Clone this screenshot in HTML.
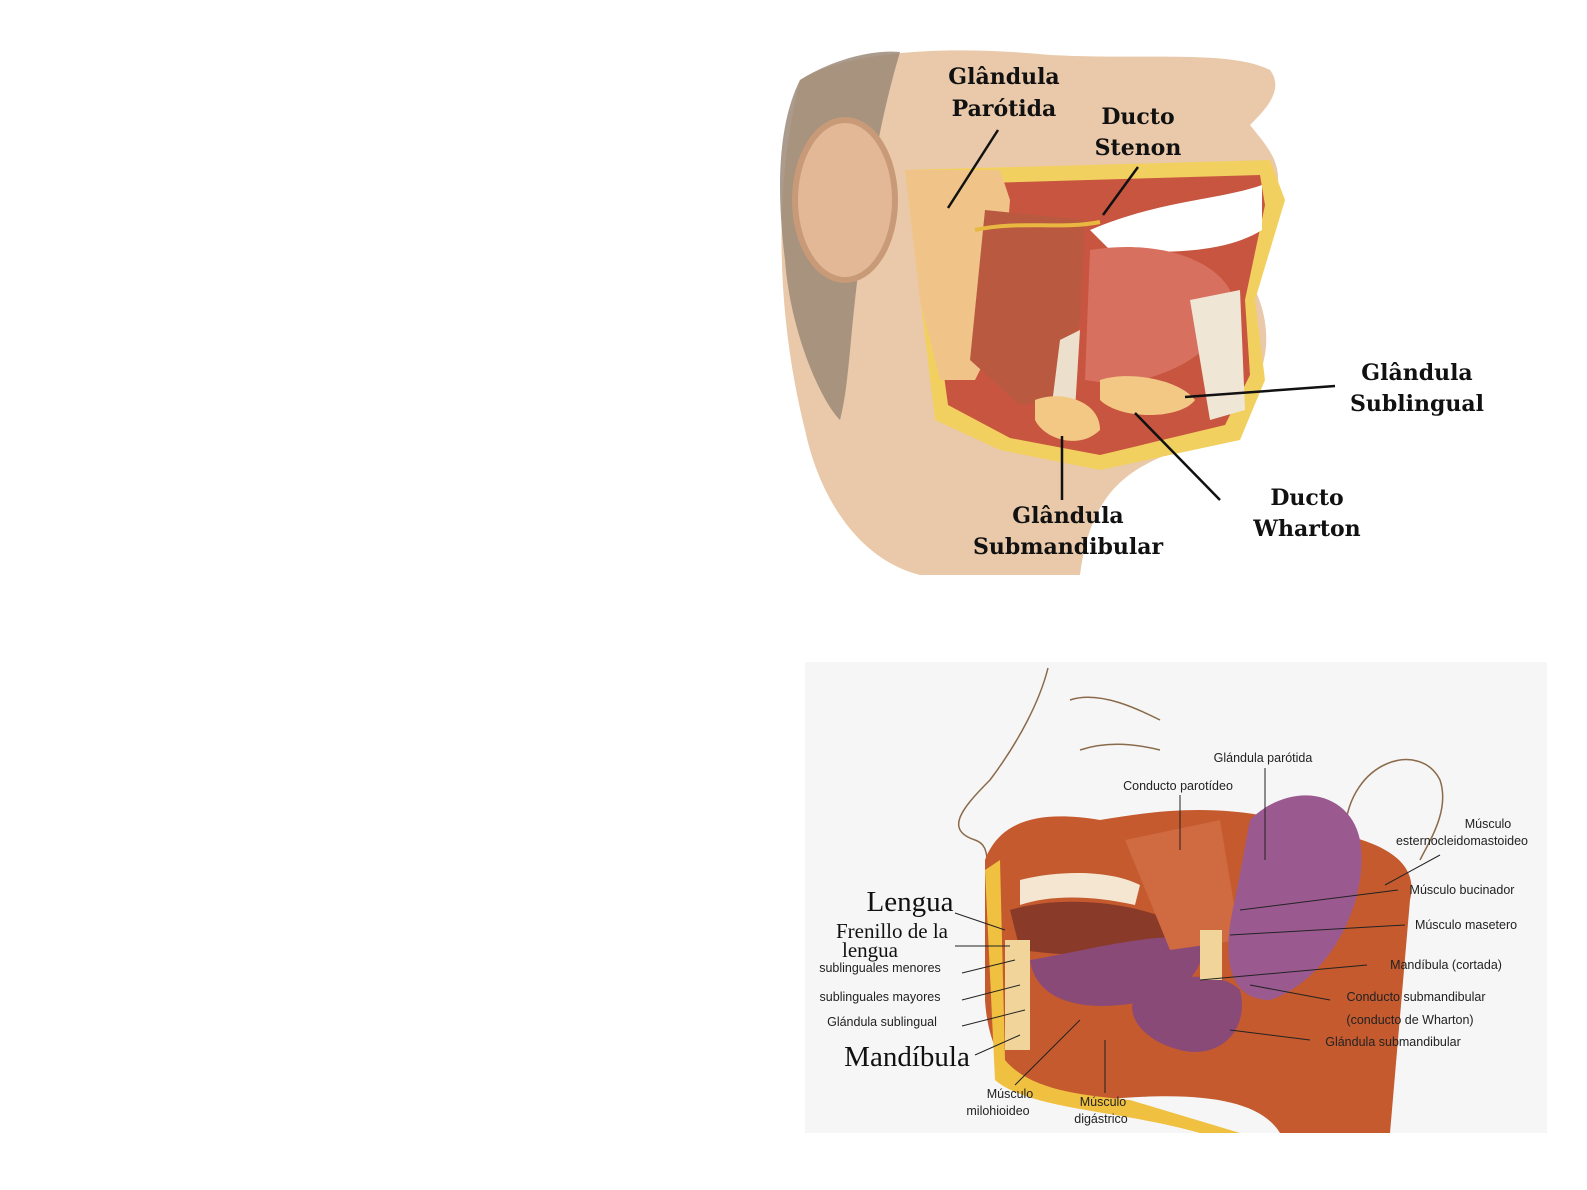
<!DOCTYPE html>
<html><head><meta charset="utf-8"><style>
html,body{margin:0;padding:0;background:#fff;width:1587px;height:1190px;overflow:hidden}
svg{position:absolute;left:0;top:0}
.t{font-family:"DejaVu Serif","Liberation Serif",serif;font-weight:bold;font-size:22px;fill:#111}
.s{font-family:"Liberation Sans",sans-serif;font-size:12.5px;fill:#222}
.r{font-family:"Liberation Serif",serif;fill:#111}
</style></head><body>
<svg width="1587" height="1190" viewBox="0 0 1587 1190">
<!-- TOP IMAGE -->
<path d="M800,80 C850,50 950,45 1050,55 C1150,60 1230,50 1270,70 C1285,90 1265,110 1250,125 C1270,150 1285,165 1275,200 C1260,230 1255,260 1255,290 C1270,320 1270,360 1255,380 C1250,420 1230,440 1180,450 C1120,470 1090,500 1080,575 L920,575 C860,560 820,500 805,430 C780,330 770,200 800,80 Z" fill="#e9c9a9"/>
<path d="M800,80 C840,55 880,50 900,52 C880,120 870,180 860,260 C850,330 850,380 840,420 C820,400 790,330 785,260 C775,180 780,120 800,80 Z" fill="#9c8a78" opacity="0.85"/>
<ellipse cx="845" cy="200" rx="50" ry="80" fill="#e2b896" stroke="#c99a78" stroke-width="6"/>
<path d="M905,170 L1270,160 L1285,200 L1255,300 L1265,380 L1240,440 L1100,470 L1000,450 L935,420 Z" fill="#f2d060"/>
<path d="M918,185 L1260,175 L1265,205 L1245,300 L1250,375 L1225,425 L1100,455 L1010,438 L948,405 Z" fill="#c8553f"/>
<path d="M905,170 L1000,170 L1010,200 L1000,330 L975,380 L940,380 L920,300 Z" fill="#f0c488"/>
<path d="M985,210 L1085,220 L1080,320 L1055,400 L1020,405 L970,360 Z" fill="#b95a40"/>
<path d="M1090,230 C1160,200 1220,200 1262,185 L1262,230 C1230,250 1180,255 1110,250 Z" fill="#fff"/>
<path d="M1090,250 C1150,240 1210,255 1230,290 C1235,330 1200,370 1120,385 L1085,380 Z" fill="#d87060"/>
<path d="M1190,300 L1240,290 L1245,410 L1210,420 Z" fill="#f0e6d6"/>
<path d="M1060,340 L1080,330 L1075,410 L1050,420 Z" fill="#ece0cc"/>
<path d="M1100,380 C1130,370 1180,380 1195,400 C1180,420 1120,420 1100,400 Z" fill="#f2c884"/>
<path d="M1035,400 C1060,390 1100,400 1100,430 C1080,450 1045,440 1035,420 Z" fill="#f2c884"/>
<path d="M975,230 C1020,220 1060,230 1100,222" stroke="#e8b840" stroke-width="4" fill="none"/>
<g stroke="#111" stroke-width="2.5">
<line x1="998" y1="130" x2="948" y2="208"/>
<line x1="1138" y1="167" x2="1103" y2="215"/>
<line x1="1335" y1="386" x2="1185" y2="397"/>
<line x1="1220" y1="500" x2="1135" y2="413"/>
<line x1="1062" y1="500" x2="1062" y2="436"/>
</g>
<text class="t" x="1004" y="84" text-anchor="middle">Glândula</text>
<text class="t" x="1004" y="116" text-anchor="middle">Parótida</text>
<text class="t" x="1138" y="124" text-anchor="middle">Ducto</text>
<text class="t" x="1138" y="155" text-anchor="middle">Stenon</text>
<text class="t" x="1417" y="380" text-anchor="middle">Glândula</text>
<text class="t" x="1417" y="411" text-anchor="middle">Sublingual</text>
<text class="t" x="1307" y="505" text-anchor="middle">Ducto</text>
<text class="t" x="1307" y="536" text-anchor="middle">Wharton</text>
<text class="t" x="1068" y="523" text-anchor="middle">Glândula</text>
<text class="t" x="1068" y="554" text-anchor="middle">Submandibular</text>

<!-- BOTTOM IMAGE -->
<rect x="805" y="662" width="742" height="471" fill="#f6f6f6"/>
<path d="M1048,668 C1040,700 1020,740 990,780 C960,810 945,830 975,840 C990,845 985,860 990,870" stroke="#8a6a4a" stroke-width="1.5" fill="none"/>
<path d="M1345,830 C1350,760 1420,740 1440,780 C1450,810 1430,840 1420,860" stroke="#8a6a4a" stroke-width="1.5" fill="none"/>
<path d="M1070,700 C1100,690 1140,710 1160,720 M1080,750 C1110,740 1140,745 1160,750" stroke="#8a6a4a" stroke-width="1.5" fill="none"/>
<path d="M985,860 C1000,820 1040,810 1100,820 C1160,810 1230,800 1320,830 C1380,840 1420,860 1410,900 L1390,1133 L1280,1133 C1260,1100 1200,1090 1100,1100 C1040,1110 990,1080 985,1000 Z" fill="#c45a2e"/>
<path d="M985,870 L1000,860 L1005,1060 C1030,1090 1080,1095 1130,1100 L1240,1133 L1200,1133 C1120,1110 1030,1110 995,1080 Z" fill="#f0c040"/>
<path d="M1020,880 C1060,870 1110,870 1140,885 L1135,905 C1090,895 1050,895 1020,905 Z" fill="#f4e6d0"/>
<path d="M1010,910 C1060,895 1140,900 1190,930 C1180,960 1100,960 1020,950 Z" fill="#8a3a28"/>
<path d="M1030,960 C1090,950 1160,930 1200,940 C1210,970 1180,1000 1120,1005 C1070,1010 1035,995 1030,960 Z" fill="#8a4a78"/>
<path d="M1140,990 C1170,975 1220,970 1240,990 C1250,1030 1220,1060 1180,1050 C1140,1040 1120,1010 1140,990 Z" fill="#8a4a78"/>
<path d="M1125,840 L1220,820 L1240,940 L1170,950 Z" fill="#d06a40"/>
<path d="M1250,820 C1290,780 1350,790 1360,840 C1370,900 1330,980 1270,1000 C1230,1000 1220,960 1235,900 Z" fill="#9a5a90"/>
<rect x="1005" y="940" width="25" height="110" fill="#f0d49a"/>
<rect x="1200" y="930" width="22" height="50" fill="#f0d49a"/>
<g stroke="#222" stroke-width="1">
<line x1="1265" y1="768" x2="1265" y2="860"/>
<line x1="1180" y1="795" x2="1180" y2="850"/>
<line x1="1440" y1="855" x2="1385" y2="885"/>
<line x1="1398" y1="890" x2="1240" y2="910"/>
<line x1="1405" y1="925" x2="1230" y2="935"/>
<line x1="1367" y1="965" x2="1200" y2="980"/>
<line x1="1330" y1="1000" x2="1250" y2="985"/>
<line x1="1310" y1="1040" x2="1230" y2="1030"/>
<line x1="955" y1="913" x2="1005" y2="930"/>
<line x1="955" y1="946" x2="1010" y2="946"/>
<line x1="962" y1="973" x2="1015" y2="960"/>
<line x1="962" y1="1000" x2="1020" y2="985"/>
<line x1="962" y1="1026" x2="1025" y2="1010"/>
<line x1="975" y1="1055" x2="1020" y2="1035"/>
<line x1="1015" y1="1085" x2="1080" y2="1020"/>
<line x1="1105" y1="1093" x2="1105" y2="1040"/>
</g>
<text class="s" x="1263" y="762" text-anchor="middle">Glándula parótida</text>
<text class="s" x="1178" y="790" text-anchor="middle">Conducto parotídeo</text>
<text class="s" x="1488" y="828" text-anchor="middle">Músculo</text>
<text class="s" x="1462" y="845" text-anchor="middle">esternocleidomastoideo</text>
<text class="s" x="1462" y="894" text-anchor="middle">Músculo bucinador</text>
<text class="s" x="1466" y="929" text-anchor="middle">Músculo masetero</text>
<text class="s" x="1446" y="969" text-anchor="middle">Mandíbula (cortada)</text>
<text class="s" x="1416" y="1001" text-anchor="middle">Conducto submandibular</text>
<text class="s" x="1410" y="1024" text-anchor="middle">(conducto de Wharton)</text>
<text class="s" x="1393" y="1046" text-anchor="middle">Glándula submandibular</text>
<text class="r" x="910" y="911" font-size="29" text-anchor="middle">Lengua</text>
<text class="r" x="892" y="938" font-size="21" text-anchor="middle">Frenillo de la</text>
<text class="r" x="870" y="957" font-size="21" text-anchor="middle">lengua</text>
<text class="s" x="880" y="972" text-anchor="middle" font-size="11.5">sublinguales menores</text>
<text class="s" x="880" y="1001" text-anchor="middle" font-size="11.5">sublinguales mayores</text>
<text class="s" x="882" y="1026" text-anchor="middle">Glándula sublingual</text>
<text class="r" x="907" y="1066" font-size="29" text-anchor="middle">Mandíbula</text>
<text class="s" x="1010" y="1098" text-anchor="middle">Músculo</text>
<text class="s" x="998" y="1115" text-anchor="middle">milohioideo</text>
<text class="s" x="1103" y="1106" text-anchor="middle">Músculo</text>
<text class="s" x="1101" y="1123" text-anchor="middle">digástrico</text>
</svg>
</body></html>
